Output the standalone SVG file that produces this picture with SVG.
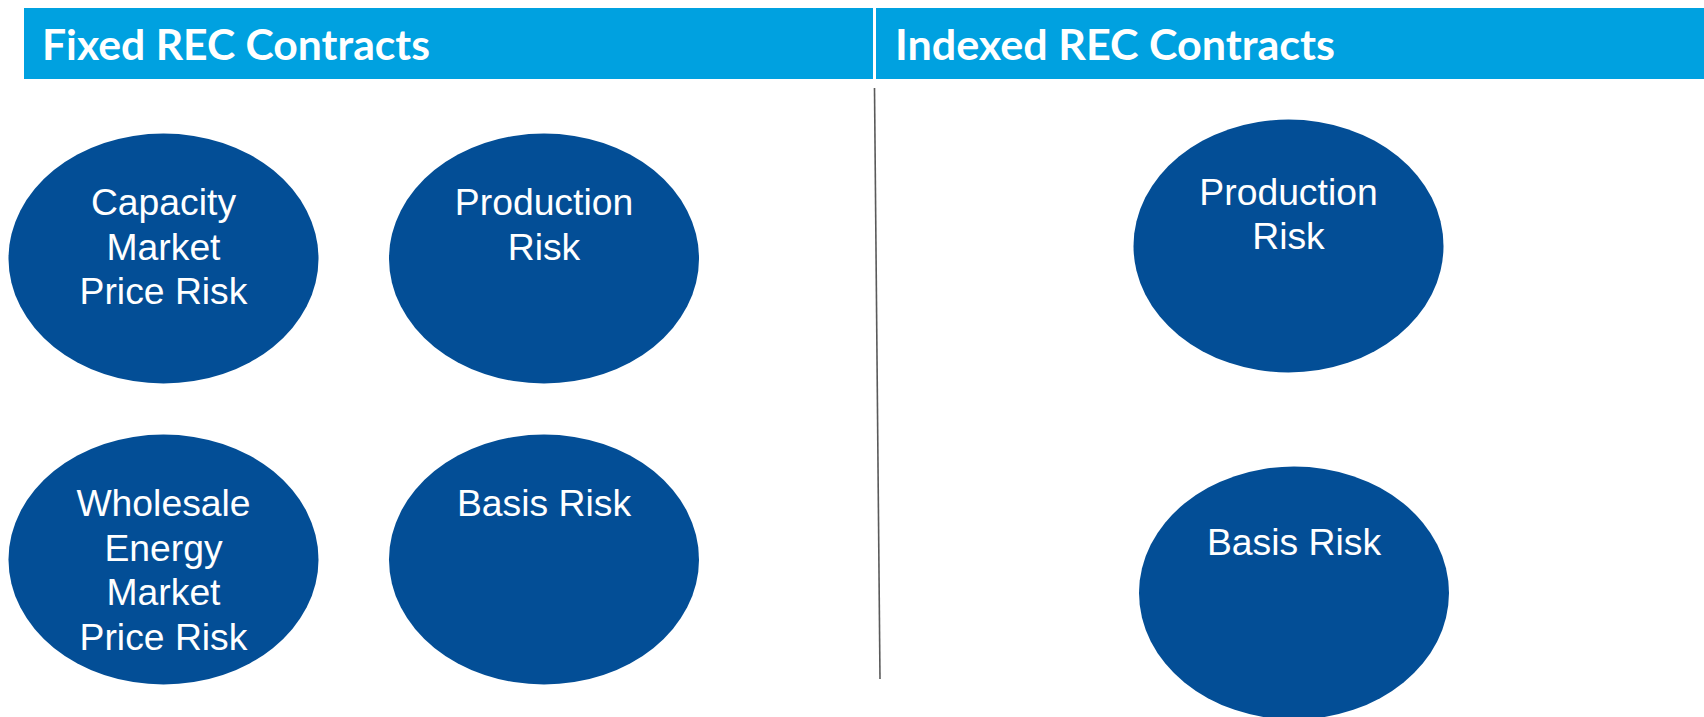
<svg xmlns="http://www.w3.org/2000/svg" width="1704" height="717" viewBox="0 0 1704 717">
<style>
.hdr{fill:#00a1e0}
.hdrtxt{font-family:Lato,"Open Sans",sans-serif;font-weight:bold;font-size:42px;fill:#ffffff}
.node ellipse{fill:#034e96}
.node text{font-family:"Liberation Sans",Arial,sans-serif;font-size:37.3px;fill:#ffffff;text-anchor:middle}
.divider{stroke:#5a5a5a;stroke-width:1.6;fill:none}
</style>
<rect width="1704" height="717" fill="#ffffff"/>
<g id="header-fixed">
<rect class="hdr" x="24" y="8" width="849" height="71"/>
<text class="hdrtxt" x="42" y="60" textLength="388" lengthAdjust="spacingAndGlyphs">Fixed REC Contracts</text>
</g>
<g id="header-indexed">
<rect class="hdr" x="876" y="8" width="828" height="71"/>
<text class="hdrtxt" x="895" y="60" textLength="440" lengthAdjust="spacingAndGlyphs">Indexed REC Contracts</text>
</g>
<g id="connectors">
<line class="divider" x1="874.5" y1="88" x2="880" y2="679"/>
</g>
<g id="capacity" class="node">
<ellipse cx="163.5" cy="258.5" rx="155" ry="125"/>
<text x="163.5" y="215">Capacity</text>
<text x="163.5" y="259.5">Market</text>
<text x="163.5" y="304">Price Risk</text>
</g>
<g id="production-fixed" class="node">
<ellipse cx="544" cy="258.5" rx="155" ry="125"/>
<text x="544" y="215">Production</text>
<text x="544" y="259.5">Risk</text>
</g>
<g id="wholesale" class="node">
<ellipse cx="163.5" cy="559.5" rx="155" ry="125"/>
<text x="163.5" y="516">Wholesale</text>
<text x="163.5" y="560.5">Energy</text>
<text x="163.5" y="605">Market</text>
<text x="163.5" y="649.5">Price Risk</text>
</g>
<g id="basis-fixed" class="node">
<ellipse cx="544" cy="559.5" rx="155" ry="125"/>
<text x="544" y="516">Basis Risk</text>
</g>
<g id="production-indexed" class="node">
<ellipse cx="1288.5" cy="246" rx="155" ry="126.5"/>
<text x="1288.5" y="204.5">Production</text>
<text x="1288.5" y="249">Risk</text>
</g>
<g id="basis-indexed" class="node">
<ellipse cx="1294" cy="593" rx="155" ry="126.5"/>
<text x="1294" y="555">Basis Risk</text>
</g>
</svg>
